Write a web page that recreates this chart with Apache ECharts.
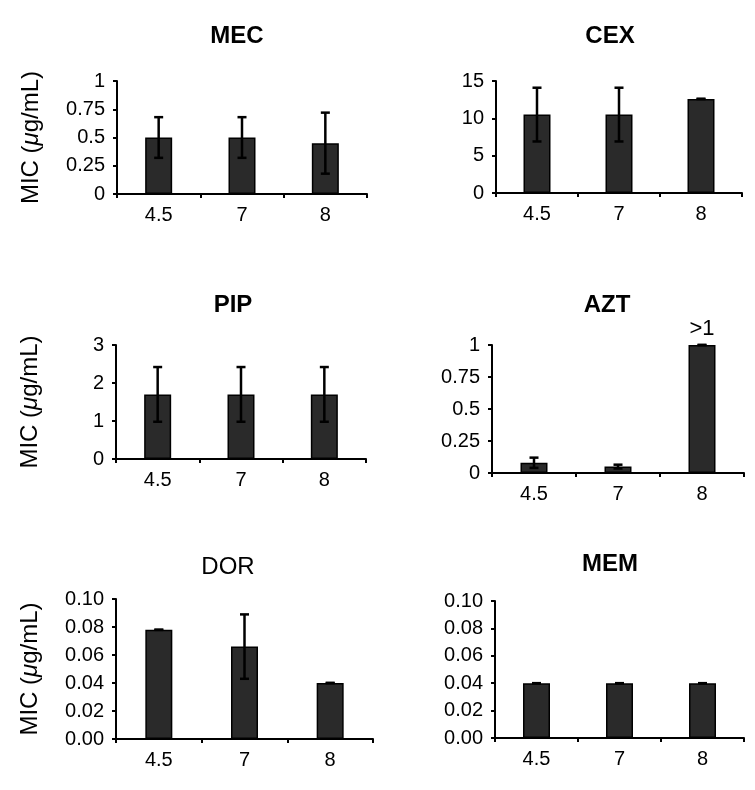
<!DOCTYPE html>
<html>
<head>
<meta charset="utf-8">
<script src="https://cdn.jsdelivr.net/npm/echarts@6/dist/echarts.min.js"></script>
<style>
html,body{margin:0;padding:0;background:#fff;}
#chart{width:755px;height:790px;}
</style>
</head>
<body>
<div id="chart"></div>
<script>
const categories = ['4.5', '7', '8'];
const titles = ['MEC', 'CEX', 'PIP', 'AZT', 'DOR', 'MEM'];

const mecValues = [0.5, 0.5, 0.45];
const mecErrors = [0.18, 0.18, 0.27];
const cexValues = [10.5, 10.5, 12.6];
const cexErrors = [3.6, 3.6, 0];
const pipValues = [1.7, 1.7, 1.7];
const pipErrors = [0.72, 0.72, 0.72];
const aztValues = [0.08, 0.05, 1];
const aztErrors = [0.04, 0.015, 0];
const aztLabels = ['', '', '>1'];
const dorValues = [0.078, 0.066, 0.04];
const dorErrors = [0, 0.023, 0];
const memValues = [0.04, 0.04, 0.04];
const memErrors = [0, 0, 0];

const yMax = [1, 15, 3, 1, 0.1, 0.1];
const yInterval = [0.25, 5, 1, 0.25, 0.02, 0.02];
const yDecimals = [null, null, null, null, 2, 2];

const values = [mecValues, cexValues, pipValues, aztValues, dorValues, memValues];
const errors = [mecErrors, cexErrors, pipErrors, aztErrors, dorErrors, memErrors];

// layout (pixels)
const grids = [
  {left: 117, top: 81, width: 250, height: 113},
  {left: 496, top: 81, width: 246, height: 112},
  {left: 116, top: 345, width: 250, height: 114},
  {left: 492, top: 345, width: 252, height: 128},
  {left: 116, top: 599, width: 257, height: 140},
  {left: 495, top: 601, width: 249, height: 137}
];
const titlePos = [[237, 36], [610, 36], [233, 305], [607, 305], [228, 567], [610, 564]];
const titleWeight = ['bold', 'bold', 'bold', 'bold', 'normal', 'bold'];
const showYName = [true, false, true, false, true, false];

const font = '"Liberation Sans", Arial, Helvetica, sans-serif';

const option = {
  animation: false,
  backgroundColor: '#fff',
  grid: grids.map(g => Object.assign({containLabel: false}, g)),
  xAxis: grids.map((g, i) => ({
    type: 'category',
    gridIndex: i,
    data: categories,
    axisLine: {lineStyle: {color: '#000', width: 2}},
    axisTick: {show: true, length: 4, lineStyle: {color: '#000', width: 2}},
    axisLabel: {color: '#000', fontSize: 20, fontFamily: font, margin: 11},
    splitLine: {show: false}
  })),
  yAxis: grids.map((g, i) => ({
    type: 'value',
    gridIndex: i,
    min: 0,
    max: yMax[i],
    interval: yInterval[i],
    name: showYName[i] ? 'MIC ({i|μ}g/mL)' : '',
    nameLocation: 'middle',
    nameRotate: 90,
    nameGap: 74,
    nameTextStyle: {
      color: '#000', fontSize: 24, fontFamily: font,
      rich: {i: {fontStyle: 'italic', fontSize: 24, fontFamily: font, color: '#000'}}
    },
    axisLine: {show: true, lineStyle: {color: '#000', width: 2}},
    axisTick: {show: true, length: 4, lineStyle: {color: '#000', width: 2}},
    axisLabel: {
      color: '#000', fontSize: 20, fontFamily: font, margin: 12,
      formatter: v => yDecimals[i] != null ? v.toFixed(yDecimals[i]) : String(+v.toFixed(4))
    },
    splitLine: {show: false}
  })),
  series: [],
  graphic: titles.map((t, i) => ({
    type: 'text',
    x: titlePos[i][0],
    y: titlePos[i][1],
    style: {
      text: t,
      fill: '#000',
      font: titleWeight[i] + ' 24px ' + font,
      align: 'center',
      verticalAlign: 'middle'
    }
  }))
};

values.forEach((vals, i) => {
  option.series.push({
    type: 'bar',
    xAxisIndex: i,
    yAxisIndex: i,
    barWidth: 27,
    data: vals.map((v, j) => {
      const item = {value: v};
      if (i === 3 && aztLabels[j]) {
        item.label = {show: true, position: 'top', formatter: aztLabels[j], fontSize: 22, fontFamily: font, color: '#000', distance: 5};
      }
      return item;
    }),
    itemStyle: {color: '#2a2a2a', borderColor: '#000', borderWidth: 1.5},
    z: 2
  });
  option.series.push({
    type: 'custom',
    xAxisIndex: i,
    yAxisIndex: i,
    z: 5,
    data: vals.map((v, j) => [j, v - errors[i][j], v + errors[i][j]]),
    renderItem: function (params, api) {
      const x = api.value(0);
      const lo = api.coord([x, api.value(1)]);
      const hi = api.coord([x, api.value(2)]);
      const cap = 4.5;
      const st = {stroke: '#000', lineWidth: 2.5};
      return {
        type: 'group',
        children: [
          {type: 'line', shape: {x1: lo[0], y1: lo[1], x2: hi[0], y2: hi[1]}, style: st},
          {type: 'line', shape: {x1: hi[0] - cap, y1: hi[1], x2: hi[0] + cap, y2: hi[1]}, style: st},
          {type: 'line', shape: {x1: lo[0] - cap, y1: lo[1], x2: lo[0] + cap, y2: lo[1]}, style: st}
        ]
      };
    }
  });
});

const chart = echarts.init(document.getElementById('chart'), null, {renderer: 'canvas'});
chart.setOption(option);
</script>
</body>
</html>
